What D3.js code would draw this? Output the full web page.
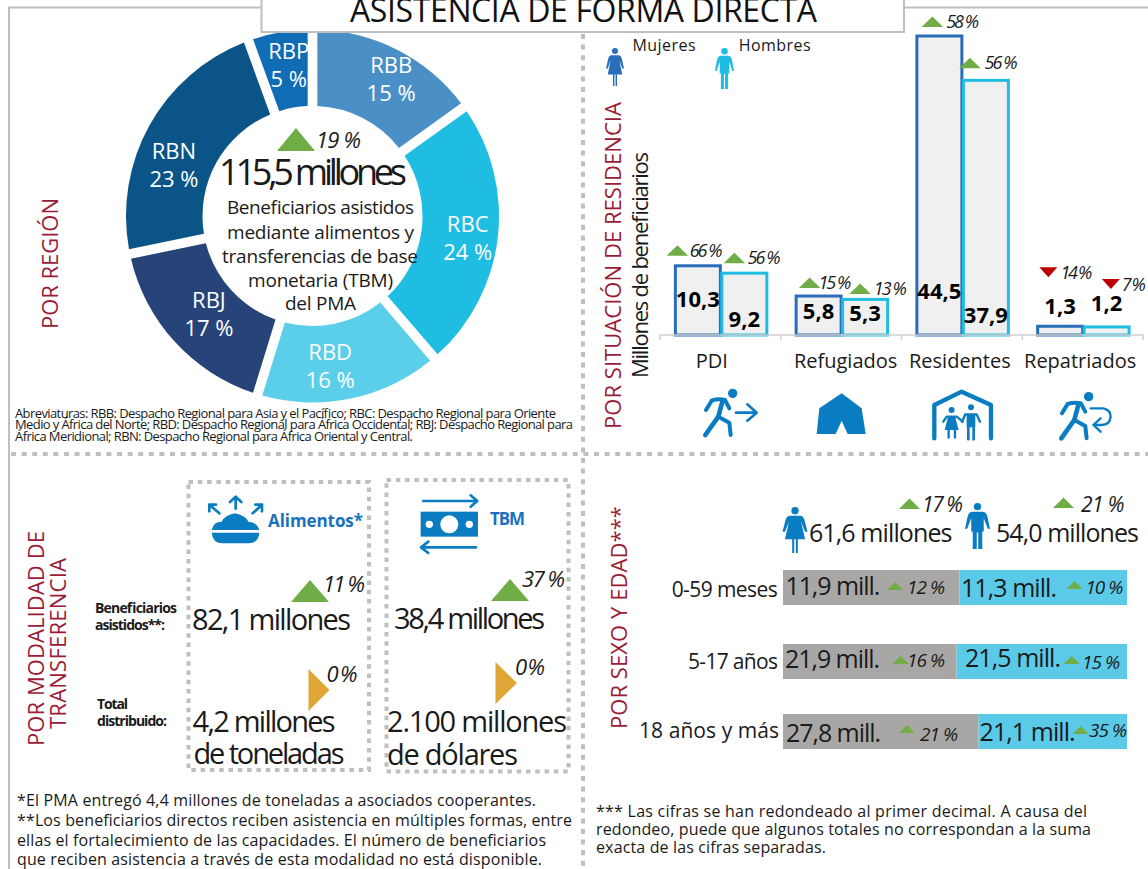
<!DOCTYPE html>
<html>
<head>
<meta charset="utf-8">
<script src="https://d3js.org/d3.v7.min.js"></script>
<style>
  html, body { margin: 0; padding: 0; background: #fff; overflow: hidden; }
  text { font-family: "Open Sans", sans-serif; }
</style>
</head>
<body>
<script>
// region donut
var regions = ["RBB", "RBC", "RBD", "RBJ", "RBN", "RBP"];
var regionShare = [15, 24, 16, 17, 23, 5];

// residence bars, millions
var residence = ["PDI", "Refugiados", "Residentes", "Repatriados"];
var sexes = ["Mujeres", "Hombres"];
var womenByResidence = [10.3, 5.8, 44.5, 1.3];
var menByResidence = [9.2, 5.3, 37.9, 1.2];
var womenChange = [66, 15, 58, -14];
var menChange = [56, 13, 56, -7];

// sex and age rows, millions
var ageGroups = ["0-59 meses", "5-17 años", "18 años y más"];
var womenByAge = [11.9, 21.9, 27.8];
var menByAge = [11.3, 21.5, 21.1];
var womenAgeChange = [12, 16, 21];
var menAgeChange = [10, 15, 35];

var fmt = d3.format(".1f");
function comma(v) { return fmt(v).replace(".", ","); }

var W = 1148, H = 869;
var RED = "#9b1c36", GREEN = "#70ad47", GOLD = "#dfa637", ICON = "#0a7cc2", LINE = "#bfbfbf";
var WOMEN = "#2a6ebb", MEN = "#1fbde1";

var svg = d3.select("body").append("svg").attr("width", W).attr("height", H);

function label(g, text, x, y, o) {
  o = o || {};
  var s = g.append("text").attr("x", x).attr("y", y)
    .attr("font-size", o.size || 15)
    .attr("text-anchor", o.anchor || "start")
    .attr("fill", o.fill || "#1a1a1a")
    .attr("font-weight", o.weight || 400)
    .attr("font-style", o.italic ? "italic" : "normal")
    .text(text);
  if (o.width) s.attr("textLength", o.width).attr("lengthAdjust", "spacing");
  return s;
}
function vlabel(text, x, y, o) {
  var g = svg.append("g").attr("transform", "translate(" + x + "," + y + ") rotate(-90)");
  return label(g, text, 0, 0, o);
}
function poly(g, pts, fill) {
  var p = d3.path();
  pts.forEach(function(q, i) { if (i) p.lineTo(q[0], q[1]); else p.moveTo(q[0], q[1]); });
  p.closePath();
  return g.append("path").attr("d", p.toString()).attr("fill", fill);
}
function triUp(g, x0, x1, base, h) { return poly(g, [[x0, base], [x1, base], [(x0 + x1) / 2, base - h]], GREEN); }
function triDown(g, x0, x1, top, h) { return poly(g, [[x0, top], [x1, top], [(x0 + x1) / 2, top + h]], "#c00000"); }
function triRight(g, x0, x1, y0, y1) { return poly(g, [[x0, y0], [x1, (y0 + y1) / 2], [x0, y1]], GOLD); }
function stroked(g, d, w, color) {
  return g.append("path").attr("d", d).attr("fill", "none").attr("stroke", color || ICON)
    .attr("stroke-width", w).attr("stroke-linecap", "round").attr("stroke-linejoin", "round");
}

// ---- frame
svg.append("path").attr("d", "M9 869V7.5H1148").attr("fill", "none").attr("stroke", LINE).attr("stroke-width", 2);
svg.append("line").attr("x1", 11).attr("x2", W).attr("y1", 454).attr("y2", 454)
  .attr("stroke", LINE).attr("stroke-width", 4).attr("stroke-dasharray", "5 5.6");
svg.append("line").attr("x1", 583).attr("x2", 583).attr("y1", 34).attr("y2", H)
  .attr("stroke", LINE).attr("stroke-width", 4).attr("stroke-dasharray", "5 5.6");

// ---- donut
var cx = 312.5, cy = 216;
var donut = svg.append("g").attr("transform", "translate(" + cx + "," + cy + ")");
var regionColor = d3.scaleOrdinal(regions, ["#4a90c6", "#1fbde1", "#5bcfea", "#264478", "#0b5488", "#0f6cb5"]);
var labelDx = [11, 8, -12.5, 6, -9, 2], labelDy = [3, 12.5, 13, 6.5, 29, 2.5];
var pie = d3.pie().sort(null).value(function(d) { return d; }).padAngle(0.052);
var arc = d3.arc().innerRadius(110).outerRadius(186.5).padRadius(186.5);
var slices = pie(regionShare);
donut.selectAll("path").data(slices).join("path")
  .attr("d", arc).attr("fill", function(d, i) { return regionColor(regions[i]); });
slices.forEach(function(d, i) {
  var c = arc.centroid(d), x = c[0] + labelDx[i], y = c[1] + labelDy[i];
  label(donut, regions[i], x, y - 14, { anchor: "middle", size: 22, fill: "#fff" });
  label(donut, regionShare[i] + " %", x, y + 14, { anchor: "middle", size: 22, fill: "#fff" });
});
triUp(svg, 277, 315, 151, 23);
label(svg, "19 %", 316, 148, { size: 22, italic: true, width: 45 });
label(svg, "115,5 millones", 219, 185, { size: 36, width: 188 });
label(svg, "Beneficiarios asistidos", 227, 214, { size: 19, width: 187 });
label(svg, "mediante alimentos y", 227, 239, { size: 19, width: 187 });
label(svg, "transferencias de base", 222, 263, { size: 19, width: 196 });
label(svg, "monetaria (TBM)", 248, 287, { size: 19, width: 145 });
label(svg, "del PMA", 285, 310, { size: 19, width: 71 });
vlabel("POR REGIÓN", 58, 329, { size: 22, fill: RED, width: 131 });
label(svg, "Abreviaturas: RBB: Despacho Regional para Asia y el Pacífico; RBC: Despacho Regional para Oriente", 15, 418, { size: 13, width: 541 });
label(svg, "Medio y África del Norte; RBD: Despacho Regional para África Occidental; RBJ: Despacho Regional para", 15, 429, { size: 13, width: 558 });
label(svg, "África Meridional; RBN: Despacho Regional para África Oriental y Central.", 15, 441, { size: 13, width: 398 });

// ---- title box, sits on top of the donut
svg.append("rect").attr("x", 261.5).attr("y", -4).attr("width", 642.5).attr("height", 36)
  .attr("fill", "#fff").attr("stroke", LINE).attr("stroke-width", 2);
label(svg, "ASISTENCIA DE FORMA DIRECTA", 350, 22, { size: 32, width: 467, fill: "#111" });

// ---- residence bars
var x0 = d3.scaleBand().domain(residence).range([660, 1143]).paddingInner(0.23).paddingOuter(0.115);
var x1 = d3.scaleBand().domain(sexes).range([0, x0.bandwidth()]);
var y = d3.scaleLinear().domain([0, 44.5]).range([335, 36]);
var sexColor = d3.scaleOrdinal(sexes, [WOMEN, MEN]);

var barData = [];
residence.forEach(function(cat, i) {
  barData.push({ cat: cat, sex: "Mujeres", v: womenByResidence[i], ch: womenChange[i] });
  barData.push({ cat: cat, sex: "Hombres", v: menByResidence[i], ch: menChange[i] });
});
var bars = svg.append("g");
bars.selectAll("rect").data(barData).join("rect")
  .attr("x", function(d) { return x0(d.cat) + x1(d.sex) + 1.5; })
  .attr("y", function(d) { return y(d.v); })
  .attr("width", x1.bandwidth() - 1.5)
  .attr("height", function(d) { return y(0) - y(d.v); })
  .attr("fill", "#f0f0f0")
  .attr("stroke", function(d) { return sexColor(d.sex); })
  .attr("stroke-width", 3);

var axis = svg.append("g").attr("transform", "translate(0,335)")
  .call(d3.axisBottom(x0).tickSize(0).tickPadding(19));
axis.select(".domain").attr("stroke", "#d0d0d0").attr("stroke-width", 1.5).attr("d", "M660 5V0H1143V5");
var tickDx = [-8.5, 4.5, -2, -2.5];
axis.selectAll(".tick text").attr("font-size", 20).attr("font-family", "Open Sans").attr("fill", "#1a1a1a")
  .attr("dx", function(d, i) { return tickDx[i]; });
d3.range(1, 4).forEach(function(i) {
  axis.append("line").attr("x1", 660 + x0.step() * i).attr("x2", 660 + x0.step() * i)
    .attr("y1", 0).attr("y2", 5).attr("stroke", "#d0d0d0").attr("stroke-width", 1.5);
});

// value labels and trend marks, offsets measured from each bar
var valueBaseline = [307, 327, 319, 321, 299, 323, 314, 311];
var trendDx = [-30.5, -20, -19, -15, -17, -26, -20, -4];
var trendGap = [10, 10, 8, 5.5, 9, 12, 59, 48];
var textDx = [1.5, 2.5, -2, 3, 3, 4, 3, 2];
barData.forEach(function(d, i) {
  var bx = x0(d.cat) + x1(d.sex) + x1.bandwidth() / 2;
  label(svg, comma(d.v), bx + 0.7, valueBaseline[i], { anchor: "middle", size: 22, weight: 700, fill: "#000" });
  var tx = bx + trendDx[i], ty = y(d.v) - trendGap[i];
  if (d.ch > 0) {
    triUp(svg, tx, tx + 21.5, ty, 10.5);
    label(svg, d.ch + " %", tx + 21.5 + textDx[i], ty + 1, { size: 18, italic: true, width: 33 });
  } else {
    triDown(svg, tx, tx + 18, ty, 10);
    label(svg, Math.abs(d.ch) + " %", tx + 18 + textDx[i], ty + 12, { size: 18, italic: true, width: d.ch === -7 ? 24 : 32 });
  }
});

function woman(g, cx, top, h, w, color) {
  var s = h / 100, i = g.append("g").attr("transform", "translate(" + cx + "," + top + ")").attr("fill", color);
  i.append("circle").attr("cx", 0).attr("cy", 8 * s).attr("r", 8 * s);
  i.append("path").attr("transform", "scale(" + (w / 62) + "," + s + ")")
    .attr("d", "M-12 19H12Q21 19 24 30L31 54H25L15 32L25 70H7V100H2V70H-2V100H-7V70H-25L-15 32L-25 54H-31L-24 30Q-21 19 -12 19Z");
}
function man(g, cx, top, h, w, color) {
  var s = h / 100, i = g.append("g").attr("transform", "translate(" + cx + "," + top + ")").attr("fill", color);
  i.append("circle").attr("cx", 0).attr("cy", 8 * s).attr("r", 8 * s);
  i.append("path").attr("transform", "scale(" + (w / 68) + "," + s + ")")
    .attr("d", "M-13 19H13Q24 19 27 30L34 56H28L17 33V62H13V100H2V64H-2V100H-13V62H-17V33L-28 56H-34L-27 30Q-24 19 -13 19Z");
}
woman(svg, 615, 48, 38, 18, WOMEN);
man(svg, 724.5, 48, 41, 19, MEN);
label(svg, "Mujeres", 632.5, 51, { size: 16, width: 63 });
label(svg, "Hombres", 738.7, 51, { size: 16, width: 72 });

vlabel("POR SITUACIÓN DE RESIDENCIA", 621, 429, { size: 22, fill: RED, width: 327 });
vlabel("Millones de beneficiarios", 648, 378, { size: 22, width: 226 });

// residence icons, drawn in zoomed crop units
var icons = svg.append("g").attr("transform", "translate(690,380) scale(0.3333)");
function runner(g, dx, dy) {
  var r = g.append("g").attr("transform", "translate(" + dx + "," + dy + ")");
  r.append("circle").attr("cx", 128).attr("cy", 40).attr("r", 14).attr("fill", ICON);
  stroked(r, "M48 90L65 62Q85 55 105 60L118 85", 12);
  stroked(r, "M98 62L85 110L46 165", 14);
  stroked(r, "M85 110L118 128L122 165", 12);
}
runner(icons, 0, 0);
stroked(icons, "M138 98H200M172 73L200 98L172 122", 8);
poly(icons, [[455, 40], [515, 85], [527, 162], [473, 162], [455, 122], [437, 162], [380, 162], [388, 85]], ICON);
stroked(icons, "M733 175V75L815 35L903 75V175", 13);
icons.append("circle").attr("cx", 785).attr("cy", 90).attr("r", 9).attr("fill", ICON);
icons.append("circle").attr("cx", 843).attr("cy", 82).attr("r", 9).attr("fill", ICON);
stroked(icons, "M760 125L770 110H800L818 125", 7);
poly(icons, [[775, 108], [795, 108], [806, 150], [764, 150]], ICON);
stroked(icons, "M776 150V173M795 150V173", 7);
stroked(icons, "M816 125L826 103H860L870 125", 7);
poly(icons, [[830, 103], [856, 103], [856, 142], [830, 142]], ICON);
stroked(icons, "M835 142V178M851 142V178", 8);
runner(icons, 1068, 10);
stroked(icons, "M1202 85H1240Q1262 90 1262 110Q1260 135 1235 135H1212M1232 115L1210 135L1232 155", 7);

// ---- transfer modality
var boxes = svg.append("g").attr("fill", "none").attr("stroke", LINE).attr("stroke-width", 4).attr("stroke-dasharray", "4.5 4.8");
boxes.append("rect").attr("x", 188.5).attr("y", 482).attr("width", 180.5).attr("height", 288);
boxes.append("rect").attr("x", 386.5).attr("y", 480).attr("width", 182).attr("height", 291.5);

vlabel("POR MODALIDAD DE", 44, 746, { size: 22, fill: RED, width: 215 });
vlabel("TRANSFERENCIA", 66, 729, { size: 22, fill: RED, width: 171 });

label(svg, "Beneficiarios", 95, 613, { size: 14, weight: 700, width: 82 });
label(svg, "asistidos**:", 95, 630, { size: 14, weight: 700, width: 70 });
label(svg, "Total", 97, 709, { size: 14, weight: 700, width: 31 });
label(svg, "distribuido:", 97, 726, { size: 14, weight: 700, width: 70 });

// food icon
var food = svg.append("g").attr("transform", "translate(190,480) scale(0.3333)");
food.append("path").attr("fill", ICON).attr("d", "M65 150Q70 125 95 125Q105 105 135 100Q165 105 175 125Q200 125 208 150Z");
food.append("path").attr("fill", ICON).attr("d", "M65 158H208Q205 190 175 190H98Q68 190 65 158Z");
stroked(food, "M137 86V52M120 66L137 50L154 66", 8);
stroked(food, "M88 100L58 74M58 94V74H78", 8);
stroked(food, "M188 100L216 74M196 74H216V94", 8);
label(svg, "Alimentos*", 268, 527, { size: 17, weight: 700, fill: "#1a72bd", width: 95 });

// cash icon
var cash = svg.append("g").attr("transform", "translate(190,480) scale(0.3333)");
stroked(cash, "M700 63H860M842 46L862 63L842 80", 8);
cash.append("rect").attr("x", 692).attr("y", 95).attr("width", 172).attr("height", 75).attr("fill", ICON);
[[718, 11], [838, 11], [778, 27]].forEach(function(c) {
  cash.append("circle").attr("cx", c[0]).attr("cy", 133).attr("r", c[1]).attr("fill", "#fff");
});
stroked(cash, "M858 202H695M715 185L693 202L715 219", 8);
label(svg, "TBM", 490, 525, { size: 17, weight: 700, fill: "#1a72bd", width: 35 });

triUp(svg, 291, 329, 602, 22);
label(svg, "11 %", 323, 592, { size: 22, italic: true, width: 42 });
label(svg, "82,1 millones", 192, 630, { size: 29, width: 159 });
triUp(svg, 491, 529, 601, 22);
label(svg, "37 %", 522, 587, { size: 22, italic: true, width: 43 });
label(svg, "38,4 millones", 394, 629, { size: 29, width: 151 });
triRight(svg, 308.5, 329.5, 669, 711);
label(svg, "0 %", 326.6, 682, { size: 22, italic: true, width: 31 });
triRight(svg, 495.5, 517, 662, 704);
label(svg, "0 %", 515, 675, { size: 22, italic: true, width: 30 });
label(svg, "4,2 millones", 192.6, 732, { size: 29, width: 143 });
label(svg, "de toneladas", 193.5, 764, { size: 29, width: 151 });
label(svg, "2.100 millones", 387, 732, { size: 29, width: 180 });
label(svg, "de dólares", 387, 765, { size: 29, width: 131 });

label(svg, "*El PMA entregó 4,4 millones de toneladas a asociados cooperantes.", 17, 806, { size: 16, width: 519 });
label(svg, "**Los beneficiarios directos reciben asistencia en múltiples formas, entre", 17, 826, { size: 16, width: 555 });
label(svg, "ellas el fortalecimiento de las capacidades. El número de beneficiarios", 17, 846, { size: 16, width: 529 });
label(svg, "que reciben asistencia a través de esta modalidad no está disponible.", 17, 864.5, { size: 16, width: 525 });

// ---- sex and age, stacked to 100 %
var ageRows = ageGroups.map(function(g, i) { return { group: g, women: womenByAge[i], men: menByAge[i] }; });
var stack = d3.stack().keys(["women", "men"]).offset(d3.stackOffsetExpand);
var share = d3.scaleLinear().domain([0, 1]).range([783, 1127]);
var rowY = d3.scaleOrdinal(ageGroups, [570, 644, 714]);
var stackColor = d3.scaleOrdinal(["women", "men"], ["#a9a7a5", "#5bcae8"]);
var stacked = svg.append("g");
stacked.selectAll("g").data(stack(ageRows)).join("g").attr("fill", function(s) { return stackColor(s.key); })
  .selectAll("rect").data(function(s) { return s; }).join("rect")
  .attr("x", function(d) { return share(d[0]); })
  .attr("y", function(d) { return rowY(d.data.group); })
  .attr("width", function(d) { return share(d[1]) - share(d[0]); })
  .attr("height", 35);

vlabel("POR SEXO Y EDAD***", 627, 729, { size: 22, fill: RED, width: 223 });
woman(svg, 795, 507, 46, 25, ICON);
man(svg, 977.5, 503, 46, 25, ICON);
label(svg, "61,6 millones", 809, 542, { size: 25, width: 143.5 });
label(svg, "54,0 millones", 996, 542, { size: 25, width: 143 });
triUp(svg, 899, 920, 509, 10.5);
label(svg, "17 %", 922, 512, { size: 21, italic: true, width: 41 });
triUp(svg, 1053, 1074, 508, 10.5);
label(svg, "21 %", 1081, 512, { size: 21, italic: true, width: 43.5 });

var rowLabelX = [671.7, 688, 639], rowLabelW = [106, 90, 140], rowLabelY = [597, 669, 738];
var wTextX = [785.4, 785, 786], wTextY = [595, 668, 741.5];
var mTextX = [961, 965, 979.6], mTextY = [597, 667, 740.5];
var wTriX = [887, 892.7, 899], wTriY = [590, 664, 733], wPctX = [907, 907, 920], wPctY = [594, 667, 741];
var mTriX = [1066.6, 1063.7, 1072.7], mTriY = [589, 664, 734], mPctX = [1085.4, 1082, 1089], mPctY = [594, 669, 736.5];
ageRows.forEach(function(r, i) {
  label(svg, r.group, rowLabelX[i], rowLabelY[i], { size: 21, width: rowLabelW[i] });
  label(svg, comma(r.women) + " mill.", wTextX[i], wTextY[i], { size: 25, width: 95 });
  label(svg, comma(r.men) + " mill.", mTextX[i], mTextY[i], { size: 25, width: 96 });
  triUp(svg, wTriX[i], wTriX[i] + 16, wTriY[i], 8);
  label(svg, womenAgeChange[i] + " %", wPctX[i], wPctY[i], { size: 19, italic: true, width: 38 });
  triUp(svg, mTriX[i], mTriX[i] + 16, mTriY[i], 8);
  label(svg, menAgeChange[i] + " %", mPctX[i], mPctY[i], { size: 19, italic: true, width: 38 });
});

label(svg, "*** Las cifras se han redondeado al primer decimal. A causa del", 596, 817, { size: 16, width: 491 });
label(svg, "redondeo, puede que algunos totales no correspondan a la suma", 596, 835, { size: 16, width: 495 });
label(svg, "exacta de las cifras separadas.", 596, 853, { size: 16, width: 230 });
</script>
</body>
</html>
